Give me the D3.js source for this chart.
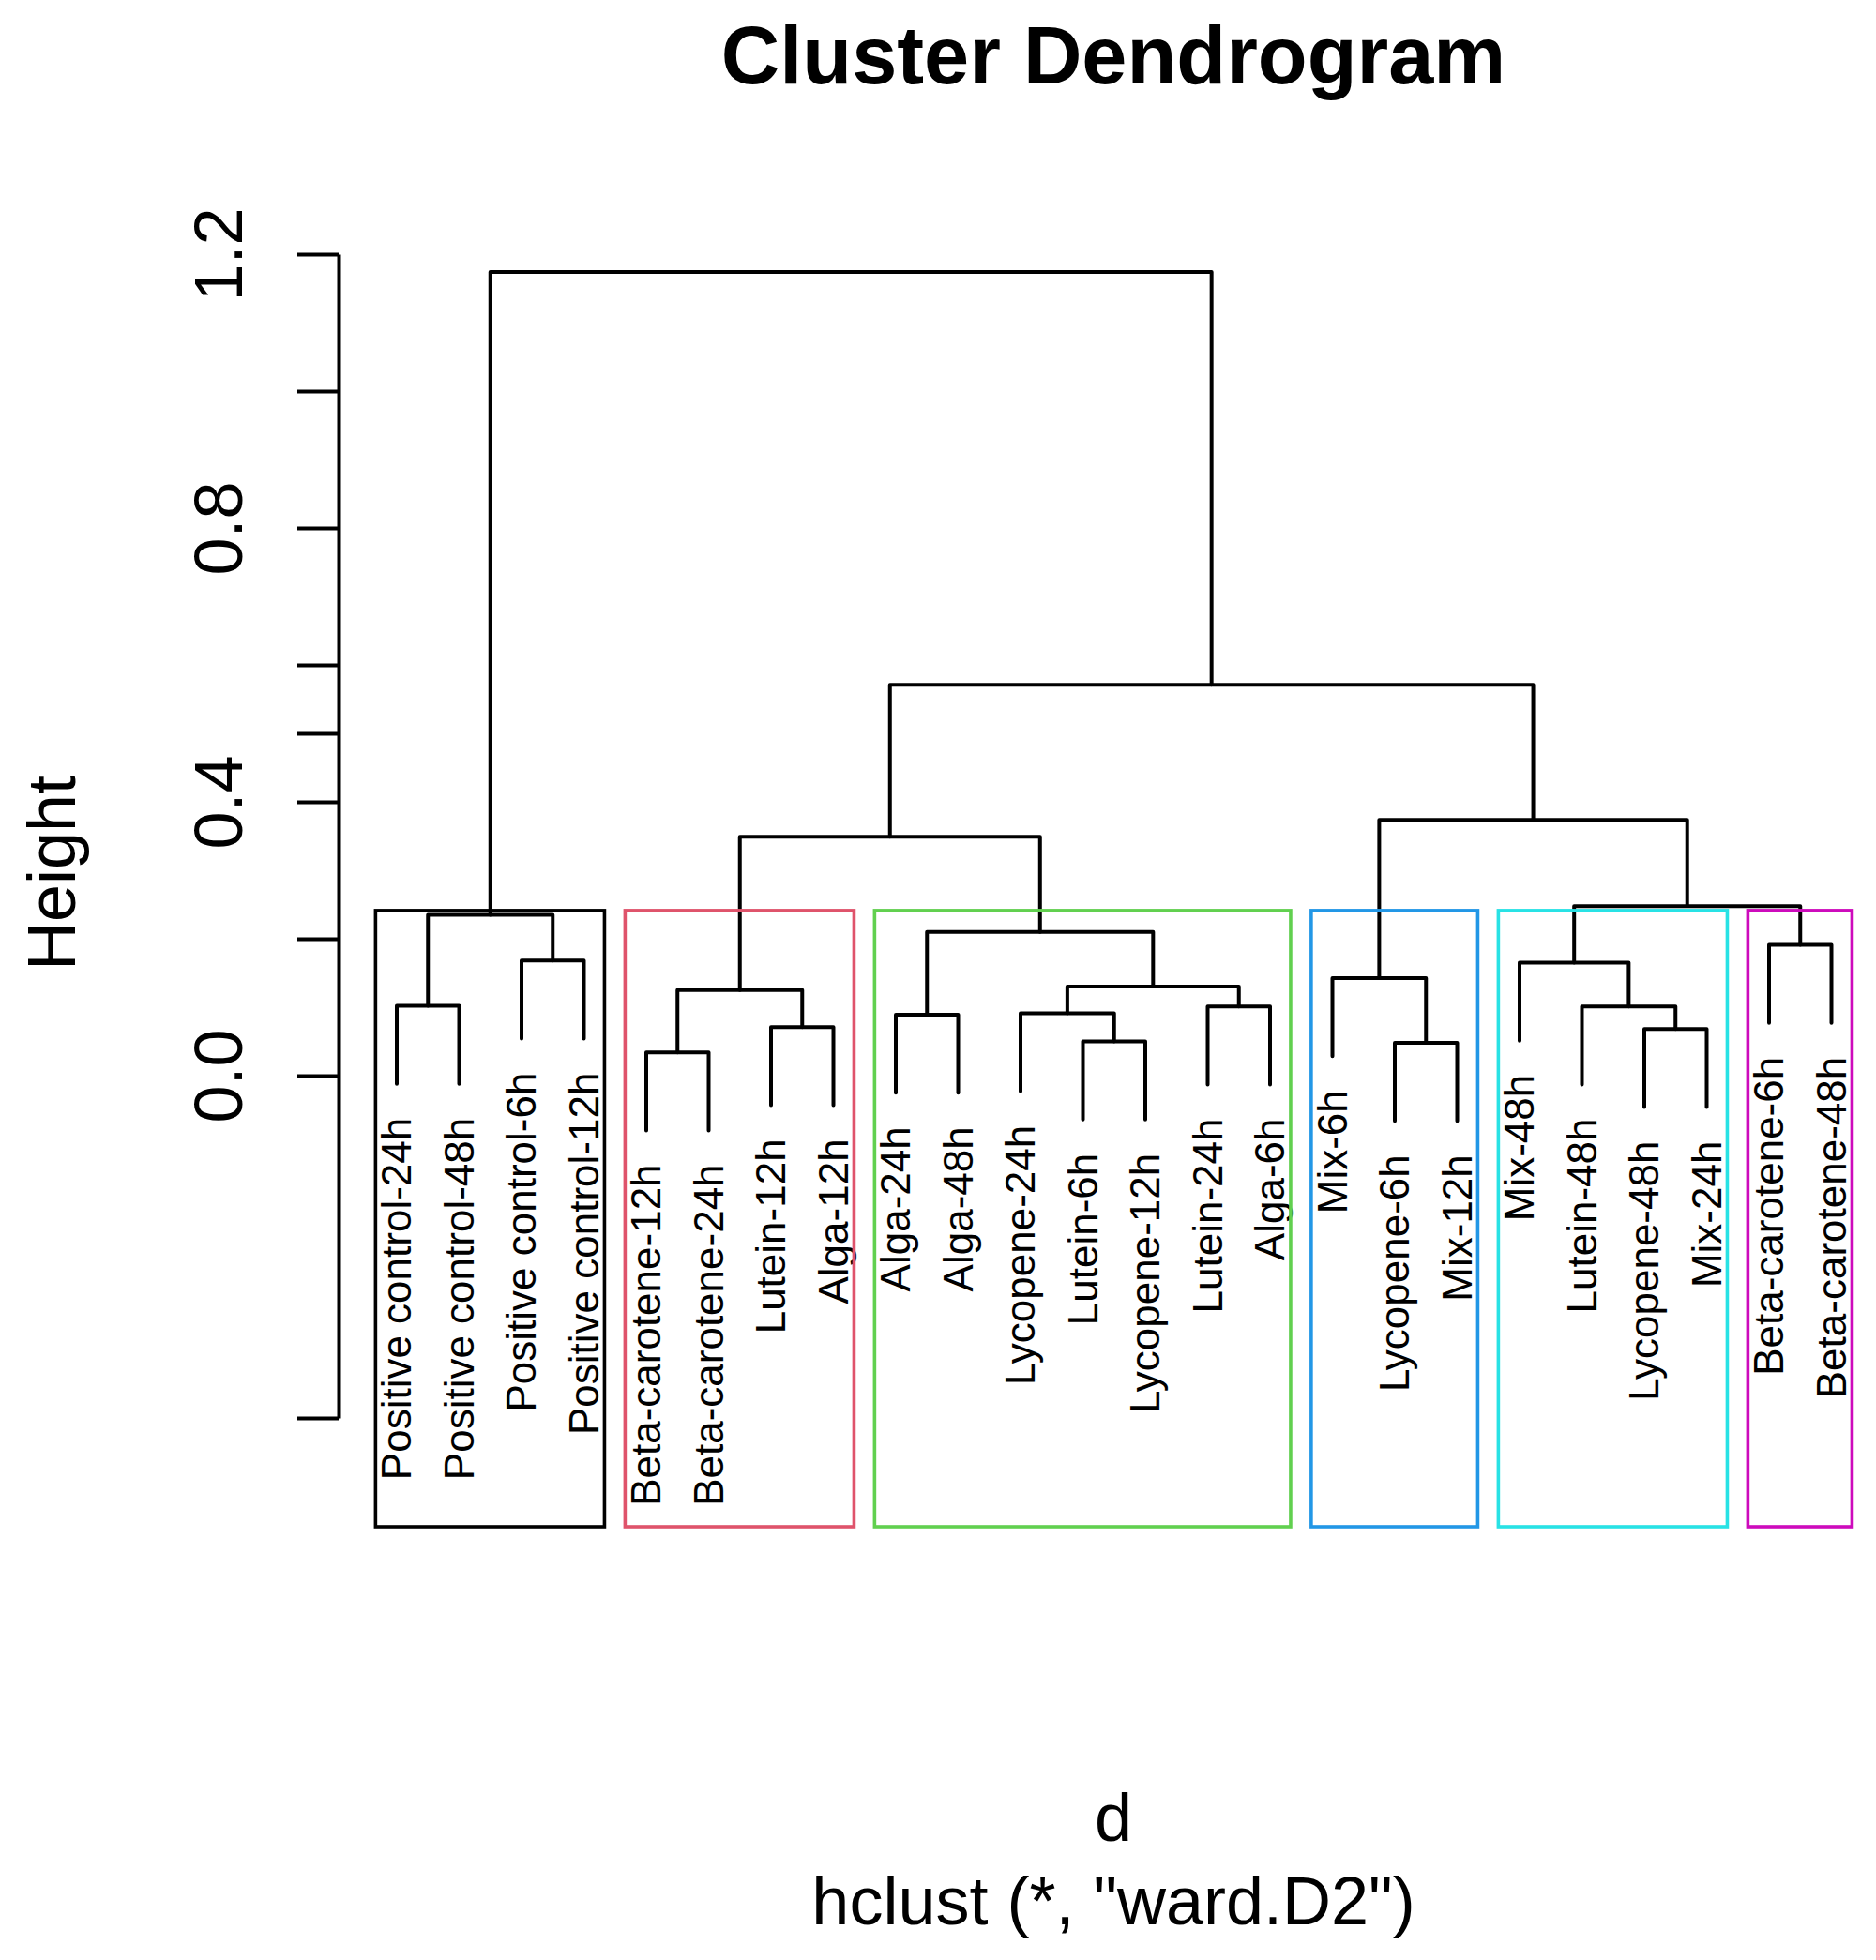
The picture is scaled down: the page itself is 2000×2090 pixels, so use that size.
<!DOCTYPE html>
<html>
  <head>
    <meta charset="utf-8">
    <title>Cluster Dendrogram</title>
    <style media="screen">
    body{margin:0;background:#fff}
    text{font-family:"Liberation Sans", Arial, sans-serif;fill:#000}
    </style>
  </head>
  <body>
    <svg width="2000" height="2090"></svg>
    <script src="https://d3js.org/d3.v7.min.js"></script>
    <script>

    // leaves, in the order they are drawn
    var leafLabels = [
      "Positive control-24h", "Positive control-48h", "Positive control-6h", "Positive control-12h",
      "Beta-carotene-12h", "Beta-carotene-24h", "Lutein-12h", "Alga-12h",
      "Alga-24h", "Alga-48h", "Lycopene-24h", "Lutein-6h", "Lycopene-12h", "Lutein-24h", "Alga-6h",
      "Mix-6h", "Lycopene-6h", "Mix-12h",
      "Mix-48h", "Lutein-48h", "Lycopene-48h", "Mix-24h",
      "Beta-carotene-6h", "Beta-carotene-48h"
    ];

    // merge table like R's hclust: negative = leaf number, positive = earlier merge
    var mergeLeft   = [-5, -12, -17, -21, -7, -9, -11, -1, -14, -20, 1, 7, -16, -19, -3, -23, 6, 8, 14, 11, 13, 20, 18];
    var mergeRight  = [-6, -13, -18, -22, -8, -10, 2, -2, -15, 4, 5, 9, 3, 10, -4, -24, 12, 15, 16, 17, 19, 21, 22];
    var mergeHeight = [0.034, 0.050, 0.048, 0.068, 0.071, 0.089, 0.091, 0.102, 0.101, 0.101, 0.125, 0.130,
                       0.1425, 0.165, 0.168, 0.191, 0.210, 0.235, 0.2475, 0.349, 0.3735, 0.571, 1.174];

    var tickValues = [1.2, 1.0, 0.8, 0.6, 0.5, 0.4, 0.2, 0.0, -0.5];
    var tickLabels = ["1.2", "", "0.8", "", "", "0.4", "", "0.0", ""];

    var k = 6;
    var clusterColors = ["#000000", "#DF536B", "#61D04F", "#2297E6", "#28E2E5", "#CD0BBC"];

    // scales
    var x = d3.scaleLinear().domain([1, 24]).range([423, 1952.5]);
    var y = d3.scaleLinear().domain([0, 1.2]).range([1147, 271]);
    var plotBottom = 1628;
    var hang = 0.1 * (d3.max(mergeHeight) - d3.min(mergeHeight));

    var svg = d3.select("svg");

    // x position of each merge = midpoint of its children
    var nodeX = [];
    function childX(c) { return c < 0 ? -c : nodeX[c - 1]; }
    mergeHeight.forEach(function(h, i) {
      nodeX[i] = (childX(mergeLeft[i]) + childX(mergeRight[i])) / 2;
    });

    // dendrogram branches
    var gd = svg.append("g").attr("fill", "none").attr("stroke", "#000")
      .attr("stroke-width", 4).attr("stroke-linecap", "round").attr("stroke-linejoin", "round");
    var leafBottom = {};
    mergeHeight.forEach(function(h, i) {
      var a = mergeLeft[i], b = mergeRight[i];
      function bottom(c) {
        if (c < 0) { leafBottom[-c] = h - hang; return h - hang; }
        return mergeHeight[c - 1];
      }
      var ya = bottom(a), yb = bottom(b);
      gd.append("path").attr("d",
        "M" + x(childX(a)) + "," + y(ya) +
        "V" + y(h) + "H" + x(childX(b)) + "V" + y(yb));
    });

    // leaf labels
    svg.append("g").selectAll("text").data(leafLabels).join("text")
      .attr("transform", function(d, i) {
        return "translate(" + x(i + 1) + "," + (y(leafBottom[i + 1]) + 36) + ") rotate(-90)";
      })
      .attr("text-anchor", "end").attr("dy", "0.35em")
      .style("font-size", "44px")
      .text(function(d) { return d; });

    // cut tree into k clusters (like rect.hclust)
    var order = d3.range(mergeHeight.length).sort(function(a, b) { return mergeHeight[b] - mergeHeight[a]; });
    var removed = order.slice(0, k - 1);
    var rectTop = (mergeHeight[order[k - 2]] + mergeHeight[order[k - 1]]) / 2;
    function leavesOf(c) {
      if (c < 0) return [-c];
      return leavesOf(mergeLeft[c - 1]).concat(leavesOf(mergeRight[c - 1]));
    }
    var clusters = [];
    removed.forEach(function(i) {
      [mergeLeft[i], mergeRight[i]].forEach(function(c) {
        if (c < 0 || removed.indexOf(c - 1) < 0) {
          var lv = leavesOf(c);
          clusters.push([d3.min(lv), d3.max(lv)]);
        }
      });
    });
    clusters.sort(function(a, b) { return a[0] - b[0]; });

    svg.append("g").selectAll("rect").data(clusters).join("rect")
      .attr("x", function(d) { return x(d[0] - 0.34); })
      .attr("width", function(d) { return x(d[1] + 0.33) - x(d[0] - 0.34); })
      .attr("y", y(rectTop))
      .attr("height", plotBottom - y(rectTop))
      .attr("fill", "none")
      .attr("stroke", function(d, i) { return clusterColors[i]; })
      .attr("stroke-width", 3.6);

    // y axis
    var yAxisScale = y.copy().domain([-0.5, 1.2]).range([y(-0.5), y(1.2)]);
    var ga = svg.append("g").attr("transform", "translate(361,0)")
      .call(d3.axisLeft(yAxisScale).tickValues(tickValues).tickSize(44).tickSizeOuter(0)
        .tickFormat(function(d, i) { return tickLabels[i]; }));
    ga.selectAll("path, line").attr("stroke", "#000").attr("stroke-width", 4);
    ga.selectAll("text")
      .attr("x", null).attr("dy", null)
      .attr("transform", "translate(-103,0) rotate(-90)")
      .attr("text-anchor", "middle")
      .attr("fill", "#000")
      .style("font-size", "72px")
      .style("font-family", "Liberation Sans, Arial, sans-serif");

    // titles
    svg.append("text").attr("x", 1187).attr("y", 89).attr("text-anchor", "middle")
      .style("font-size", "86.5px").style("font-weight", "bold").text("Cluster Dendrogram");
    svg.append("text").attr("transform", "translate(80,931) rotate(-90)").attr("text-anchor", "middle")
      .style("font-size", "72px").text("Height");
    svg.append("text").attr("x", 1187).attr("y", 1963).attr("text-anchor", "middle")
      .style("font-size", "72px").text("d");
    svg.append("text").attr("x", 1187).attr("y", 2052).attr("text-anchor", "middle")
      .style("font-size", "72px").text("hclust (*, \"ward.D2\")");

    </script>
  </body>
</html>
